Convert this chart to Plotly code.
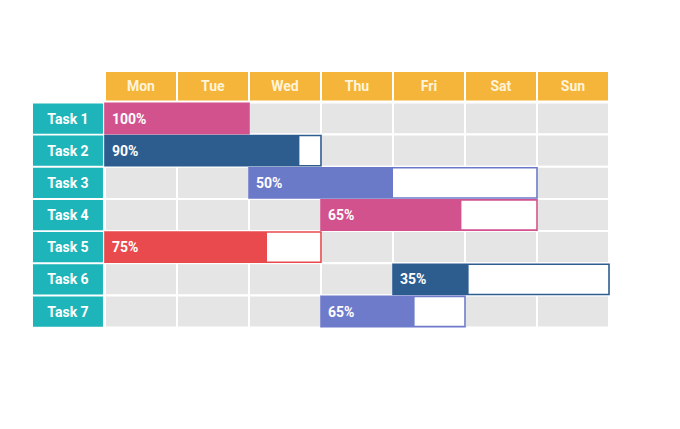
import plotly.graph_objects as go

days = ["Mon", "Tue", "Wed", "Thu", "Fri", "Sat", "Sun"]
tasks = ["Task 1", "Task 2", "Task 3", "Task 4", "Task 5", "Task 6", "Task 7"]
start_day = [0, 0, 2, 3, 0, 4, 3]
duration = [2, 3, 4, 3, 3, 3, 2]
progress = [100, 90, 50, 65, 75, 35, 65]
task_colors = ["#D2528D", "#2D5D8F", "#6B79C9", "#D2528D", "#E84A4D", "#2D5D8F", "#6E7BCB"]

ORANGE = "#F5B43A"
TEAL = "#1DB5B9"
GRAY = "#E5E5E5"
FONT = "Roboto"

rows = list(range(1, len(tasks) + 1))

fig = go.Figure()

# grid cells
gy, gb = [], []
for r in rows:
    for d in range(len(days)):
        gy.append(r)
        gb.append(d)
fig.add_trace(go.Bar(
    orientation="h", y=gy, base=gb, x=[1] * len(gy), width=1.0,
    marker=dict(color=GRAY, line=dict(color="white", width=2)),
    hoverinfo="skip"))

# header
fig.add_trace(go.Bar(
    orientation="h", y=[0] * len(days), base=list(range(len(days))), x=[1] * len(days),
    width=0.95,
    marker=dict(color=ORANGE, line=dict(color="white", width=2)),
    text=days, textposition="inside", insidetextanchor="middle",
    textfont=dict(family=FONT, size=14, color="#FFF4DA", weight="bold"),
    constraintext="none", hoverinfo="skip"))

# task labels
fig.add_trace(go.Bar(
    orientation="h", y=rows, base=[-1.0] * len(rows), x=[0.972] * len(rows),
    width=0.94,
    marker=dict(color=TEAL, line=dict(width=0)),
    text=tasks, textposition="inside", insidetextanchor="middle",
    textfont=dict(family=FONT, size=14, color="white", weight="bold"),
    constraintext="none", hoverinfo="skip"))

# outer (remaining) bars
fig.add_trace(go.Bar(
    orientation="h", y=rows, base=start_day, x=duration, width=0.94,
    marker=dict(color="white", line=dict(color=task_colors, width=1.6)),
    hoverinfo="skip"))

# progress bars
done = [d * p / 100 for d, p in zip(duration, progress)]
fig.add_trace(go.Bar(
    orientation="h", y=rows, base=start_day, x=done, width=0.94,
    marker=dict(color=task_colors, line=dict(width=0)),
    hoverinfo="skip"))

for r, s, p in zip(rows, start_day, progress):
    fig.add_annotation(
        x=s, y=r, text=f"{p}%", showarrow=False, xanchor="left", yanchor="middle",
        xshift=5, font=dict(family=FONT, size=14, color="white", weight="bold"))

fig.update_layout(
    width=680, height=429, margin=dict(l=0, r=0, t=0, b=0),
    barmode="overlay", showlegend=False,
    plot_bgcolor="white", paper_bgcolor="white",
    xaxis=dict(range=[-1.347, 8.097], visible=False, fixedrange=True),
    yaxis=dict(range=[10.90, -2.435], visible=False, fixedrange=True),
)

fig.write_html("out.html")
